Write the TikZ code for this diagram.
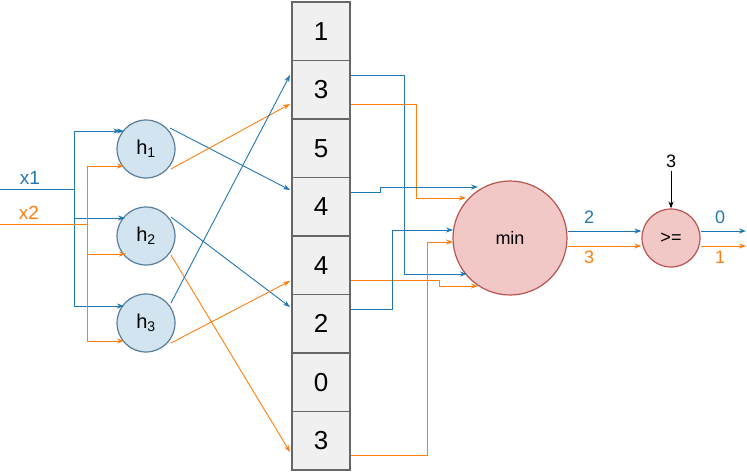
\documentclass[tikz,border=0pt]{standalone}
\usepackage{fontspec}
\setmainfont{Liberation Sans}
\usetikzlibrary{arrows.meta}
\definecolor{cb}{HTML}{1F77B4}
\definecolor{co}{HTML}{FF7F0E}
\begin{document}
\begin{tikzpicture}[x=1pt,y=-1pt,
  b/.style={cb,line width=0.9pt,-{Stealth[length=7pt,width=5pt]}},
  o/.style={co,line width=0.9pt,-{Stealth[length=7pt,width=5pt]}},
  bl/.style={cb,line width=0.9pt},
  ol/.style={co,line width=0.9pt},
  cell/.style={draw=black!60,line width=1.6pt,fill=black!6,minimum width=58pt,minimum height=58.5pt,inner sep=0pt,font=\fontsize{26}{28}\selectfont},
  hn/.style={circle,draw=cb!60!black!70,fill=cb!20,line width=1.2pt,minimum size=58pt,inner sep=0pt,font=\fontsize{20}{22}\selectfont},
  rn/.style={circle,draw={rgb,255:red,184;green,84;blue,80},fill={rgb,255:red,242;green,200;blue,198},line width=1.2pt,inner sep=0pt}]
\useasboundingbox (0,0) rectangle (747,472);
\foreach \v [count=\i from 0] in {1,3,5,4,4,2,0,3}
  \node[cell] (c\i) at (321,{31.25+58.5*\i}) {\v};
\node[hn] (h1) at (146,149) {h\textsubscript{1}};
\node[hn] (h2) at (146,236) {h\textsubscript{2}};
\node[hn] (h3) at (146,323) {h\textsubscript{3}};
\node[rn,minimum size=114pt,font=\fontsize{18}{20}\selectfont] (min) at (510,238) {min};
\node[rn,minimum size=58pt,font=\fontsize{18}{20}\selectfont] (ge) at (671,238) {>=};
% inputs
\coordinate (x1s) at (0,189);
\coordinate (x2s) at (0,224);
\node[cb,font=\fontsize{19}{21}\selectfont] (lx1) at (30,178) {x1};
\node[co,font=\fontsize{19}{21}\selectfont] (lx2) at (29,213) {x2};
\draw[bl] (x1s) -- (74,189);
\draw[b] (74,189) |- (h1.west |- 0,131) -- ++(4,0);
\draw[b] (74,131) -- (124,131);
\draw[b] (74,218) -- (125,218);
\draw[b] (74,189) |- (124,306);
\draw[ol] (x2s) -- (87,224);
\draw[o] (87,224) |- (124,166);
\draw[o] (87,254) -- (126,254);
\draw[o] (87,224) |- (124,341);
% hashes
\draw[b] (h1) ++(24,-21) -- (290,190);
\draw[o] (h1) ++(25,20) -- (290,104);
\draw[b] (h2) ++(25,-19) -- (290,307);
\draw[o] (h2) ++(25,19) -- (290,452);
\draw[b] (h3) ++(25,-20) -- (290,75);
\draw[o] (h3) ++(25,20) -- (290,281);
% to min
\draw[b] (c1.east |- 0,75) -- (404,75) -- (404,274) -- (467,274);
\draw[o] (c1.east |- 0,104) -- (416,104) -- (416,198) -- (466,198);
\draw[b] (c3.east |- 0,192) -- (380,192) -- (380,187) -- (478,187);
\draw[o] (c4.east |- 0,280) -- (439,280) -- (439,286) -- (478,286);
\draw[b] (c5.east |- 0,309) -- (392,309) -- (392,230) -- (453,230);
\draw[o] (c7.east |- 0,455) -- (427,455) -- (427,242) -- (453,242);
% min to ge
\draw[b] (min.east |- 0,231) -- (ge.west |- 0,231);
\draw[o] (min.east |- 0,246) -- (ge.west |- 0,246);
\node[cb,font=\fontsize{18}{20}\selectfont] (l2) at (589,217) {2};
\node[co,font=\fontsize{18}{20}\selectfont] (l3) at (589,257) {3};
\coordinate (o0) at (746,231);
\coordinate (o1) at (746,246);
\draw[b] (ge.east |- 0,231) -- (o0);
\draw[o] (ge.east |- 0,246) -- (o1);
\node[cb,font=\fontsize{18}{20}\selectfont] (l0) at (720,217) {0};
\node[co,font=\fontsize{18}{20}\selectfont] (l1) at (720,257) {1};
\node[font=\fontsize{18}{20}\selectfont] (t3) at (671,161) {3};
\draw[line width=0.9pt,-{Stealth[length=7pt,width=5pt]}] (t3.south) -- (ge.north);
\end{tikzpicture}
\end{document}
